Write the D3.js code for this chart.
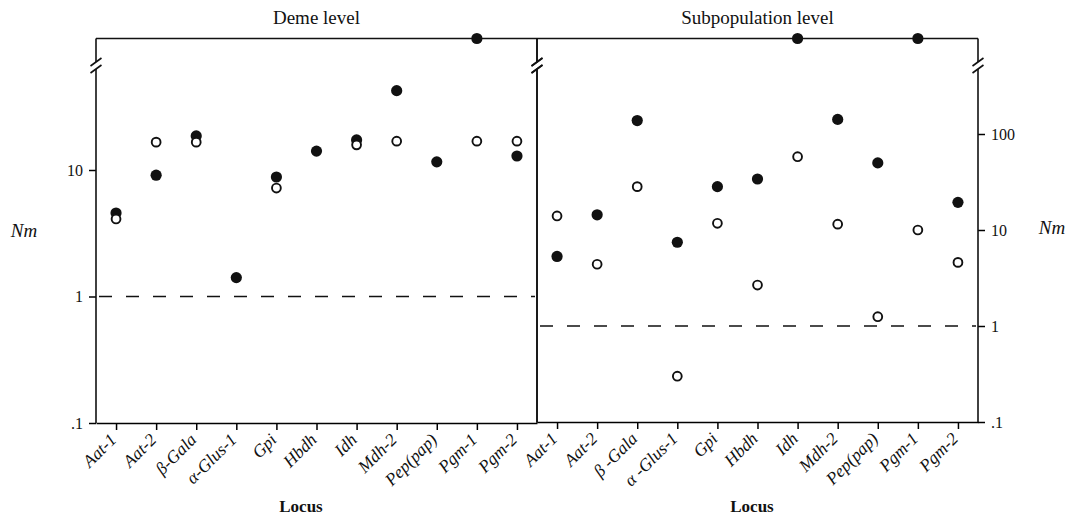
<!DOCTYPE html>
<html>
<head>
<meta charset="utf-8">
<script src="https://cdn.jsdelivr.net/npm/d3@7"></script>
<style>
    body { margin: 0; background: #fff; }
    text { font-family: "Liberation Serif", "Times New Roman", serif; fill: #111; }
</style>
</head>
<body>
<div id="chart"></div>
<script>

// loci on the x axis (right panel labels are spaced a little differently)
const loci = ["Aat-1", "Aat-2", "β-Gala", "α-Glus-1", "Gpi", "Hbdh", "Idh", "Mdh-2", "Pep(pap)", "Pgm-1", "Pgm-2"];
const lociLabelsSub = ["Aat-1", "Aat-2", "β -Gala", "α -Glus-1", "Gpi", "Hbdh", "Idh", "Mdh-2", "Pep(pap)", "Pgm-1", "Pgm-2"];

// Nm values; Infinity = plotted above the axis break, null = no point
const demeFilled = [4.57, 9.1, 18.6, 1.41, 8.8, 14.1, 17.3, 42.4, 11.6, Infinity, 12.9];
const demeOpen   = [4.1, 16.6, 16.6, null, 7.2, null, 15.8, 16.9, null, 16.9, 16.9];

const subFilled  = [5.3, 14.4, 138, 7.45, 28.3, 34, Infinity, 142, 50, Infinity, 19.4];
const subOpen    = [14.0, 4.4, 28.3, 0.30, 11.75, 2.67, 58, 11.5, 1.25, 10, 4.6];

const demeTicks = [0.1, 1, 10];
const demeTickLabels = [".1", "1", "10"];
const subTicks = [0.1, 1, 10, 100];
const subTickLabels = [".1", "1", "10", "100"];


class NmPanel {

    constructor(_svg, _config) {
        this.svg = _svg;
        this.cfg = _config;
        this.initVis();
    }

    initVis() {
        var vis = this;
        var c = vis.cfg;

        vis.g = vis.svg.append("g");

        vis.x = d3.scalePoint()
            .domain(d3.range(c.labels.length))
            .range([c.x0, c.x1])
            .padding(0.5);

        vis.y = d3.scaleLog()
            .domain(c.yDomain)
            .range(c.yRange);

        vis.top = c.top;
        vis.bottom = c.yRange[0];

        // title
        vis.g.append("text")
            .attr("x", (c.x0 + c.x1) / 2)
            .attr("y", 24)
            .attr("text-anchor", "middle")
            .style("font-size", "19px")
            .text(c.title);

        // x axis
        vis.xAxis = d3.axisBottom(vis.x)
            .tickSize(7)
            .tickSizeOuter(0)
            .tickFormat(i => c.labels[i]);

        var xg = vis.g.append("g")
            .attr("transform", "translate(0," + vis.bottom + ")")
            .call(vis.xAxis);
        xg.select(".domain").attr("stroke-width", 1.6);
        xg.selectAll(".tick line").attr("stroke-width", 1.5);
        xg.selectAll("text")
            .attr("text-anchor", "end")
            .attr("transform", "rotate(-45)")
            .attr("x", -12)
            .attr("y", 7)
            .attr("dy", "0.35em")
            .style("font-size", "17.5px")
            .style("font-style", "italic")
            .style("fill", "#111");

        // y axis, on the left or right side
        var yAxis = (c.side === "left" ? d3.axisLeft(vis.y) : d3.axisRight(vis.y))
            .tickValues(c.ticks)
            .tickFormat((d, i) => c.tickLabels[i])
            .tickSize(7)
            .tickPadding(6);
        var yg = vis.g.append("g")
            .attr("transform", "translate(" + (c.side === "left" ? c.x0 : c.x1) + ",0)")
            .call(yAxis);
        yg.select(".domain").remove();
        yg.selectAll(".tick line").attr("stroke-width", 1.5);
        yg.selectAll("text")
            .style("font-size", "16px")
            .style("fill", "#111");

        // axis title
        vis.g.append("text")
            .attr("x", c.nmX)
            .attr("y", c.nmY)
            .attr("text-anchor", "middle")
            .style("font-size", "19px")
            .style("font-style", "italic")
            .text("Nm");

        vis.g.append("text")
            .attr("x", c.locusX)
            .attr("y", 512)
            .attr("text-anchor", "middle")
            .style("font-size", "17px")
            .style("font-weight", "bold")
            .text("Locus");

        // frame with broken vertical lines
        vis.g.append("line")
            .attr("x1", c.x0).attr("x2", c.x1)
            .attr("y1", vis.top).attr("y2", vis.top)
            .attr("stroke", "#111").attr("stroke-width", 1.6);
        [c.x0, c.x1].forEach(xx => vis.brokenLine(xx));

        // dashed reference line at Nm = 1
        vis.g.append("line")
            .attr("x1", c.x0 + 3).attr("x2", c.x1 - 2)
            .attr("y1", vis.y(1)).attr("y2", vis.y(1))
            .attr("stroke", "#111")
            .attr("stroke-width", 1.4)
            .attr("stroke-dasharray", "13,14");

        vis.wrangleData();
    }

    brokenLine(xx) {
        var vis = this;
        var b1 = 62, b2 = 69;
        var segs = [[vis.top, b1], [b2, vis.bottom]];
        segs.forEach(s => {
            vis.g.append("line")
                .attr("x1", xx).attr("x2", xx)
                .attr("y1", s[0]).attr("y2", s[1])
                .attr("stroke", "#111").attr("stroke-width", 1.6);
        });
        [b1, b2].forEach(by => {
            vis.g.append("line")
                .attr("x1", xx - 5.5).attr("x2", xx + 5.5)
                .attr("y1", by + 4).attr("y2", by - 4)
                .attr("stroke", "#111").attr("stroke-width", 1.6);
        });
    }

    wrangleData() {
        var vis = this;
        var c = vis.cfg;
        vis.filled = c.filled.map((v, i) => ({ i: i, v: v })).filter(d => d.v !== null);
        vis.open = c.open.map((v, i) => ({ i: i, v: v })).filter(d => d.v !== null);
        vis.updateVis();
    }

    yPos(v) {
        return isFinite(v) ? this.y(v) : this.top;
    }

    updateVis() {
        var vis = this;

        vis.g.selectAll(".dot-filled")
            .data(vis.filled)
            .enter().append("circle")
            .attr("class", "dot-filled")
            .attr("cx", d => vis.x(d.i))
            .attr("cy", d => vis.yPos(d.v))
            .attr("r", 5.6)
            .attr("fill", "#111");

        vis.g.selectAll(".dot-open")
            .data(vis.open)
            .enter().append("circle")
            .attr("class", "dot-open")
            .attr("cx", d => vis.x(d.i))
            .attr("cy", d => vis.yPos(d.v))
            .attr("r", 4.4)
            .attr("fill", "#fff")
            .attr("stroke", "#111")
            .attr("stroke-width", 1.9);
    }
}


var svg = d3.select("#chart").append("svg")
    .attr("width", 1072)
    .attr("height", 517);

var deme = new NmPanel(svg, {
    title: "Deme level",
    labels: loci,
    x0: 96, x1: 537, top: 38.5,
    yDomain: [0.1, 100], yRange: [423, 43.5],
    side: "left",
    ticks: demeTicks, tickLabels: demeTickLabels,
    nmX: 24, nmY: 237,
    locusX: 301,
    filled: demeFilled, open: demeOpen
});

var sub = new NmPanel(svg, {
    title: "Subpopulation level",
    labels: lociLabelsSub,
    x0: 537, x1: 978, top: 38.5,
    yDomain: [0.1, 1000], yRange: [422, 38],
    side: "right",
    ticks: subTicks, tickLabels: subTickLabels,
    nmX: 1052, nmY: 234,
    locusX: 752,
    filled: subFilled, open: subOpen
});

</script>
</body>
</html>
